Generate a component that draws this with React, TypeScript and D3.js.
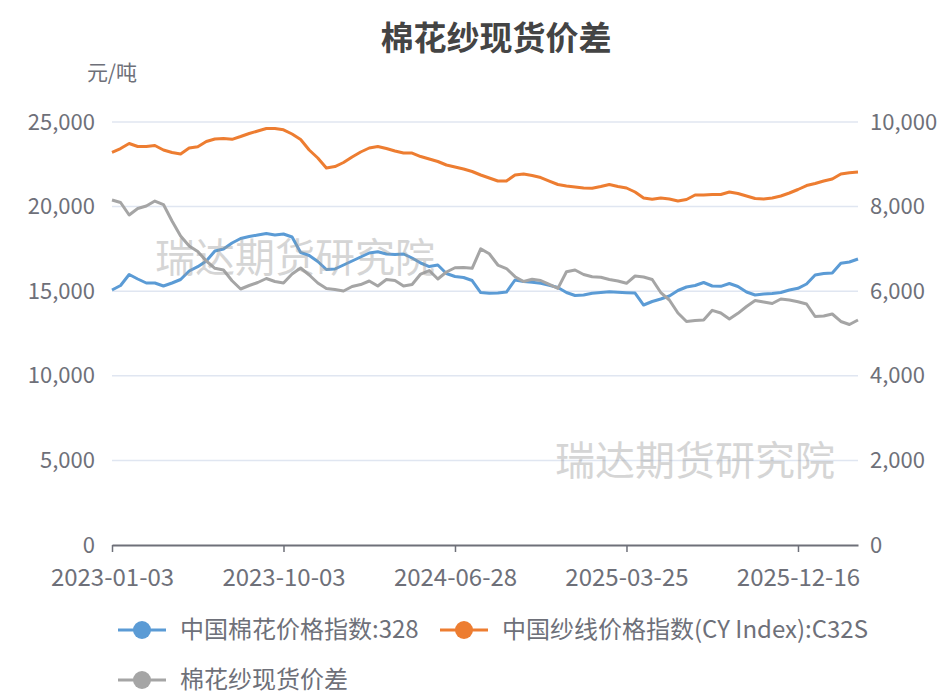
import React, { useEffect, useRef } from "react";
import * as d3 from "d3";

// one value every ~8.6px (20 points between date labels)
const tickDates = ["2023-01-03", "2023-10-03", "2024-06-28", "2025-03-25", "2025-12-16"];
const tickEvery = 20;

const cotton = [
  15071, 15336, 15987, 15721, 15484, 15484, 15307, 15484, 15691, 16193,
  16448, 16784, 17375, 17494, 17848, 18114, 18232, 18321, 18410, 18321,
  18380, 18203, 17287, 17109, 16755, 16282, 16312, 16548, 16784, 17021,
  17257, 17334, 17198, 17169, 17198, 16962, 16666, 16459, 16548, 16046,
  15868, 15809, 15632, 14923, 14875, 14893, 14952, 15662, 15573, 15531,
  15466, 15348, 15218, 14923, 14745, 14775, 14875, 14923, 14970, 14935,
  14911, 14893, 14184, 14391, 14539, 14716, 15041, 15248, 15336, 15514,
  15307, 15289, 15455, 15277, 14952, 14775, 14834, 14864, 14923, 15071,
  15171, 15425, 15957, 16046, 16075, 16648, 16725, 16903,
];

const yarn = [
  23210, 23430, 23730, 23551, 23551, 23610, 23345, 23197, 23108, 23463,
  23540, 23847, 23995, 24024, 23977, 24142, 24320, 24467, 24615, 24615,
  24538, 24290, 23965, 23345, 22872, 22281, 22369, 22606, 22931, 23226,
  23463, 23551, 23433, 23285, 23167, 23167, 22960, 22813, 22665, 22458,
  22340, 22222, 22074, 21867, 21690, 21512, 21512, 21867, 21926, 21837,
  21719, 21512, 21306, 21217, 21158, 21099, 21081, 21187, 21306, 21187,
  21099, 20862, 20508, 20431, 20508, 20449, 20330, 20419, 20685, 20685,
  20715, 20715, 20862, 20774, 20626, 20478, 20449, 20508, 20626, 20803,
  21010, 21246, 21365, 21512, 21631, 21926, 22003, 22044,
];

const spread = [
  8156, 8097, 7801, 7955, 8014, 8132, 8049, 7659, 7305, 7068,
  6938, 6714, 6541, 6501, 6248, 6052, 6135, 6206, 6300, 6229,
  6194, 6406, 6548, 6383, 6194, 6064, 6040, 6005, 6111, 6158,
  6241, 6123, 6276, 6253, 6123, 6158, 6406, 6489, 6288, 6454,
  6555, 6560, 6541, 7000, 6886, 6619, 6536, 6343, 6229, 6281,
  6253, 6163, 6068, 6461, 6501, 6395, 6343, 6328, 6276, 6241,
  6187, 6359, 6336, 6276, 5969, 5792, 5484, 5284, 5307, 5319,
  5548, 5484, 5343, 5477, 5638, 5780, 5745, 5709, 5815, 5792,
  5752, 5697, 5402, 5414, 5461, 5284, 5213, 5319,
];

const seriesNames = ["中国棉花价格指数:328", "中国纱线价格指数(CY Index):C32S", "棉花纱现货价差"];
const colors = ["#5b9bd5", "#ed7d31", "#a5a5a5"];
const leftTicks = [0, 5000, 10000, 15000, 20000, 25000];
const rightTicks = [0, 2000, 4000, 6000, 8000, 10000];

const FONT = "'Noto Sans CJK SC', 'Noto Sans', sans-serif";

export default function App() {
  const ref = useRef<SVGSVGElement>(null);

  useEffect(() => {
    if (!ref.current) return;
    const svg = d3.select(ref.current);
    svg.selectAll("*").remove();

    const left = 112, right = 858, top = 122, bottom = 545;

    const x = d3
      .scalePoint<number>()
      .domain(d3.range(cotton.length))
      .range([left, right]);
    const yL = d3.scaleLinear().domain([0, 25000]).range([bottom, top]);
    const yR = d3.scaleLinear().domain([0, 10000]).range([bottom, top]);

    // title + unit
    svg.append("text")
      .attr("x", 496).attr("y", 50)
      .attr("text-anchor", "middle")
      .attr("font-size", 33).attr("font-weight", "bold")
      .attr("fill", "#444")
      .text("棉花纱现货价差");
    svg.append("text")
      .attr("x", 112).attr("y", 80)
      .attr("text-anchor", "middle")
      .attr("font-size", 21).attr("fill", "#6e7079")
      .text("元/吨");

    // grid
    svg.append("g")
      .selectAll("line")
      .data(leftTicks.filter(d => d > 0))
      .join("line")
      .attr("x1", left).attr("x2", right)
      .attr("y1", d => yL(d)).attr("y2", d => yL(d))
      .attr("stroke", "#e0e6f1").attr("stroke-width", 1.5);

    const gL = svg.append("g")
      .attr("transform", `translate(${left},0)`)
      .call(d3.axisLeft(yL).tickValues(leftTicks).tickFormat(d3.format(",")).tickSize(0).tickPadding(17));
    const gR = svg.append("g")
      .attr("transform", `translate(${right},0)`)
      .call(d3.axisRight(yR).tickValues(rightTicks).tickFormat(d3.format(",")).tickSize(0).tickPadding(12));
    [gL, gR].forEach(g => {
      g.select(".domain").remove();
      g.selectAll("text").attr("font-size", 22).attr("fill", "#6e7079").attr("font-family", FONT);
    });

    const gX = svg.append("g")
      .attr("transform", `translate(0,${bottom})`)
      .call(
        d3.axisBottom(x)
          .tickValues(tickDates.map((_, i) => i * tickEvery))
          .tickFormat(d => tickDates[(d as number) / tickEvery])
          .tickSize(7).tickSizeOuter(0).tickPadding(17)
      );
    gX.select(".domain").attr("stroke", "#6e7079").attr("stroke-width", 2);
    gX.selectAll(".tick line").attr("stroke", "#6e7079").attr("stroke-width", 1.5);
    gX.selectAll("text").attr("font-size", 24).attr("fill", "#6e7079").attr("font-family", FONT);

    // lines
    const lineL = d3.line<number>().x((_, i) => x(i)!).y(d => yL(d));
    const lineR = d3.line<number>().x((_, i) => x(i)!).y(d => yR(d));
    const plots: [number[], d3.Line<number>][] = [[cotton, lineL], [yarn, lineL], [spread, lineR]];
    plots.forEach(([data, gen], k) => {
      svg.append("path")
        .datum(data)
        .attr("d", gen)
        .attr("fill", "none")
        .attr("stroke", colors[k])
        .attr("stroke-width", 3)
        .attr("stroke-linejoin", "round");
    });

    // watermarks
    [[155, 272], [555, 475]].forEach(([wx, wy]) => {
      svg.append("text")
        .attr("x", wx).attr("y", wy)
        .attr("font-size", 40)
        .attr("fill", "#999")
        .attr("opacity", 0.4)
        .text("瑞达期货研究院");
    });

    // legend
    const legendPos = [[118, 630], [440, 630], [118, 680]];
    seriesNames.forEach((name, k) => {
      const [lx, ly] = legendPos[k];
      const g = svg.append("g").attr("transform", `translate(${lx},${ly})`);
      g.append("line").attr("x1", 0).attr("x2", 48).attr("stroke", colors[k]).attr("stroke-width", 3);
      g.append("circle").attr("cx", 24).attr("r", 9).attr("fill", colors[k]);
      g.append("text")
        .attr("x", 62).attr("dy", "0.35em")
        .attr("font-size", 24).attr("fill", "#6e7079")
        .text(name);
    });
  }, []);

  return (
    <svg
      ref={ref}
      width={950}
      height={695}
      fontFamily={FONT}
      style={{ position: "absolute", left: 0, top: 0, background: "#fff" }}
    />
  );
}
